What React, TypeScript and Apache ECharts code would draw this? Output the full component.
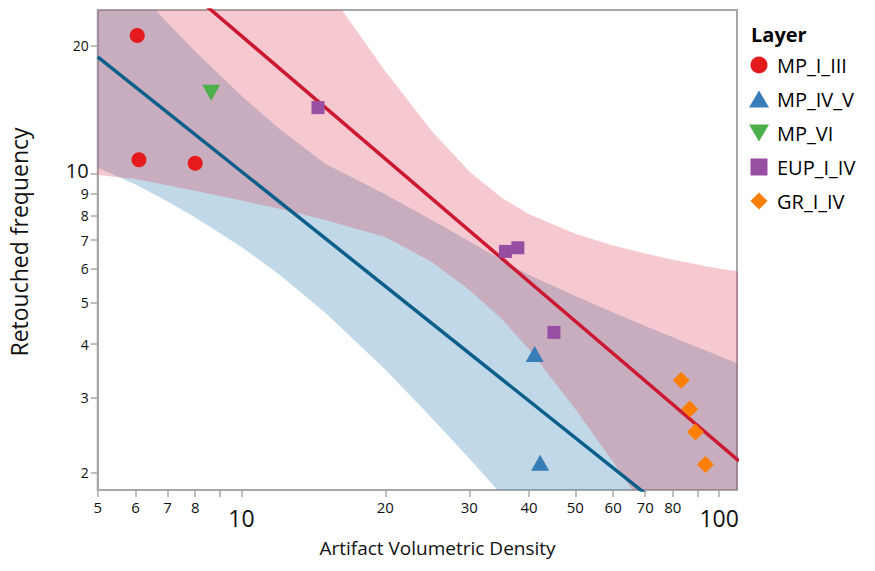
import React, { useEffect, useRef } from 'react';
import * as echarts from 'echarts';

// ---------- data ----------
const layerNames = ['MP_I_III', 'MP_IV_V', 'MP_VI', 'EUP_I_IV', 'GR_I_IV'];
const layerColors = ['#e41a1c', '#377eb8', '#4daf4a', '#984ea3', '#ff7f00'];

const mpI_III_x = [6.05, 6.1, 8.0];
const mpI_III_y = [21.1, 10.8, 10.6];
const mpIV_V_x = [41.1, 42.2];
const mpIV_V_y = [3.79, 2.11];
const mpVI_x = [8.64];
const mpVI_y = [15.5];
const eupI_IV_x = [14.46, 35.7, 37.9, 45.1];
const eupI_IV_y = [14.3, 6.59, 6.72, 4.26];
const grI_IV_x = [83.3, 86.8, 89.2, 93.6];
const grI_IV_y = [3.29, 2.82, 2.49, 2.09];

// fitted lines (end points)
const redLineX = [5, 110];
const redLineY = [40.8, 2.13];
const blueLineX = [5, 110];
const blueLineY = [18.8, 1.195];

// confidence bands
const bandX = [5, 6, 7, 8, 10, 12, 15, 20, 25, 30, 35, 40, 50, 60, 70, 80, 90, 100, 110];
const blueBandLow = [10.35, 9.45, 8.62, 7.91, 6.75, 5.82, 4.73, 3.49, 2.69, 2.16, 1.78, 1.5, 1.13, 0.887, 0.725, 0.607, 0.519, 0.451, 0.398];
const blueBandHigh = [33.9, 27.1, 22.6, 19.35, 15.24, 12.77, 10.55, 8.97, 7.81, 6.96, 6.3, 5.8, 5.18, 4.74, 4.41, 4.15, 3.93, 3.75, 3.59];
const redBandLow = [9.95, 9.74, 9.41, 9.14, 8.67, 8.29, 7.8, 7.12, 6.23, 5.35, 4.59, 3.89, 2.82, 2.12, 1.65, 1.33, 1.09, 0.917, 0.782];
const redBandHigh = [172, 126, 97, 77.8, 53.5, 39.5, 27.4, 17.4, 12.62, 10.14, 8.81, 8.05, 7.25, 6.8, 6.52, 6.3, 6.14, 6.0, 5.92];

// axes
const xMin = 5;
const xMax = 109;
const yMin = 1.822;
const yMax = 24.2;
const xTickValues = [5, 6, 7, 8, 9, 10, 20, 30, 40, 50, 60, 70, 80, 90, 100];
const xLabelValues = [5, 6, 7, 8, 10, 20, 30, 40, 50, 60, 70, 80, 100];
const yTickValues = [2, 3, 4, 5, 6, 7, 8, 9, 10, 20];
const bigLabels = [10, 100];

const xTitle = 'Artifact Volumetric Density';
const yTitle = 'Retouched frequency';
const legendTitle = 'Layer';

const FONT = '"Open Sans", "Noto Sans", sans-serif';
const AXIS_GRAY = '#a8a8a8';

const SYM_TRI_UP = 'path://M10,0L20,17L0,17Z';
const SYM_TRI_DOWN = 'path://M0,0L20,0L10,17Z';
const SYM_SQUARE = 'path://M0,0L10,0L10,10L0,10Z';
const SYM_DIAMOND = 'path://M9,0L18,9L9,18L0,9Z';
const layerSymbols = ['circle', SYM_TRI_UP, SYM_TRI_DOWN, SYM_SQUARE, SYM_DIAMOND];
const layerSizes: any[] = [15, [18, 16], [18, 16], 13, 17];

const zip = (xs: number[], ys: number[]) => xs.map((x, i) => [x, ys[i]]);

const App = () => {
  const ref = useRef<HTMLDivElement>(null);
  useEffect(() => {
    if (!ref.current) return;
    const chart = echarts.init(ref.current, null, { renderer: 'svg' });

    const makeFmt = (v: number) => {
      const n = Math.round(Math.pow(10, v));
      return bigLabels.includes(n) ? `{big|${n}}` : `{sm|${n}}`;
    };
    const richX = {
      sm: { fontSize: 15, color: '#111', fontFamily: FONT },
      big: { fontSize: 23, color: '#111', fontFamily: FONT, padding: [7, 0, 0, 0] },
    };
    const richY = {
      sm: { fontSize: 14, color: '#111', fontFamily: FONT },
      big: { fontSize: 20, color: '#111', fontFamily: FONT, padding: [0, 0, 8, 0] },
    };

    const bandSeries = (name: string, xs: number[], lo: number[], hi: number[], color: string) => ({
      name,
      type: 'custom',
      coordinateSystem: 'cartesian2d',
      xAxisIndex: 0,
      yAxisIndex: 0,
      clip: true,
      silent: true,
      z: 1,
      data: xs.map((x, i) => [x, lo[i], hi[i]]),
      encode: { x: 0, y: [1, 2] },
      renderItem: (params: any, api: any) => {
        if (params.dataIndex !== 0) return null;
        const upper = xs.map((x, i) => api.coord([x, hi[i]]));
        const lower = xs.map((x, i) => api.coord([x, lo[i]])).reverse();
        return {
          type: 'polygon',
          shape: { points: upper.concat(lower) },
          style: { fill: color, stroke: null },
        };
      },
    });

    const scatter = (i: number, xs: number[], ys: number[]) => ({
      name: layerNames[i],
      type: 'scatter',
      data: zip(xs, ys),
      symbol: layerSymbols[i],
      symbolSize: layerSizes[i],
      itemStyle: { color: layerColors[i], opacity: 1 },
      z: 5,
    });

    const option: any = {
      animation: false,
      backgroundColor: '#ffffff',
      textStyle: { fontFamily: FONT },
      title: {
        text: legendTitle,
        left: 746,
        top: 19,
        textStyle: { fontFamily: FONT, fontWeight: 'bold', fontSize: 20, color: '#000' },
      },
      legend: {
        data: layerNames.map((n, i) => ({ name: n, icon: layerSymbols[i] })),
        orient: 'vertical',
        left: 744,
        top: 50,
        itemWidth: 26,
        itemHeight: 17,
        itemGap: 14,
        symbolKeepAspect: true,
        textStyle: { fontSize: 20, color: '#000', fontFamily: FONT, lineHeight: 20 },
      },
      graphic: [
        {
          type: 'text',
          left: 'center',
          top: 538,
          style: { text: xTitle, font: `19px ${FONT}`, fill: '#111' },
        },
        {
          type: 'text',
          x: 19,
          y: 242,
          rotation: Math.PI / 2,
          style: {
            text: yTitle,
            font: `23px ${FONT}`,
            fill: '#111',
            textAlign: 'center',
            textVerticalAlign: 'middle',
          },
        },
      ],
      grid: {
        left: 97.7,
        right: 138,
        top: 10,
        bottom: 81,
        show: true,
        borderColor: AXIS_GRAY,
        borderWidth: 2,
        backgroundColor: 'transparent',
      },
      xAxis: [
        {
          type: 'log',
          logBase: 10,
          min: xMin,
          max: xMax,
          axisLine: { show: false },
          axisTick: { show: false },
          axisLabel: { show: false },
          splitLine: { show: false },
        },
        {
          type: 'value',
          position: 'bottom',
          min: Math.log10(xMin),
          max: Math.log10(xMax),
          axisLine: { show: true, lineStyle: { color: AXIS_GRAY, width: 2 } },
          axisTick: {
            show: true,
            length: 7,
            lineStyle: { color: AXIS_GRAY, width: 1.5 },
            customValues: xTickValues.map((v) => Math.log10(v)),
          },
          axisLabel: {
            show: true,
            margin: 9,
            customValues: xLabelValues.map((v) => Math.log10(v)),
            formatter: makeFmt,
            rich: richX,
          },
          splitLine: { show: false },
        },
      ],
      yAxis: [
        {
          type: 'log',
          logBase: 10,
          min: yMin,
          max: yMax,
          axisLine: { show: false },
          axisTick: { show: false },
          axisLabel: { show: false },
          splitLine: { show: false },
        },
        {
          type: 'value',
          position: 'left',
          min: Math.log10(yMin),
          max: Math.log10(yMax),
          axisLine: { show: true, lineStyle: { color: AXIS_GRAY, width: 2 } },
          axisTick: {
            show: true,
            length: 7,
            lineStyle: { color: AXIS_GRAY, width: 1.5 },
            customValues: yTickValues.map((v) => Math.log10(v)),
          },
          axisLabel: {
            show: true,
            margin: 9,
            customValues: yTickValues.map((v) => Math.log10(v)),
            formatter: makeFmt,
            rich: richY,
          },
          splitLine: { show: false },
        },
      ],
      series: [
        bandSeries('blueBand', bandX, blueBandLow, blueBandHigh, 'rgba(70,140,185,0.34)'),
        bandSeries('redBand', bandX, redBandLow, redBandHigh, 'rgba(222,60,85,0.28)'),
        {
          name: 'blueFit',
          type: 'line',
          data: zip(blueLineX, blueLineY),
          symbol: 'none',
          lineStyle: { color: '#0b5f8a', width: 3.5 },
          silent: true,
          z: 3,
        },
        {
          name: 'redFit',
          type: 'line',
          data: zip(redLineX, redLineY),
          symbol: 'none',
          lineStyle: { color: '#cc1830', width: 3.5 },
          silent: true,
          z: 3,
        },
        scatter(0, mpI_III_x, mpI_III_y),
        scatter(1, mpIV_V_x, mpIV_V_y),
        scatter(2, mpVI_x, mpVI_y),
        scatter(3, eupI_IV_x, eupI_IV_y),
        scatter(4, grI_IV_x, grI_IV_y),
      ],
    };

    chart.setOption(option);
    return () => chart.dispose();
  }, []);

  return (
    <div
      ref={ref}
      style={{ position: 'fixed', left: 0, top: 0, width: 875, height: 571, background: '#fff' }}
    />
  );
};

export default App;
